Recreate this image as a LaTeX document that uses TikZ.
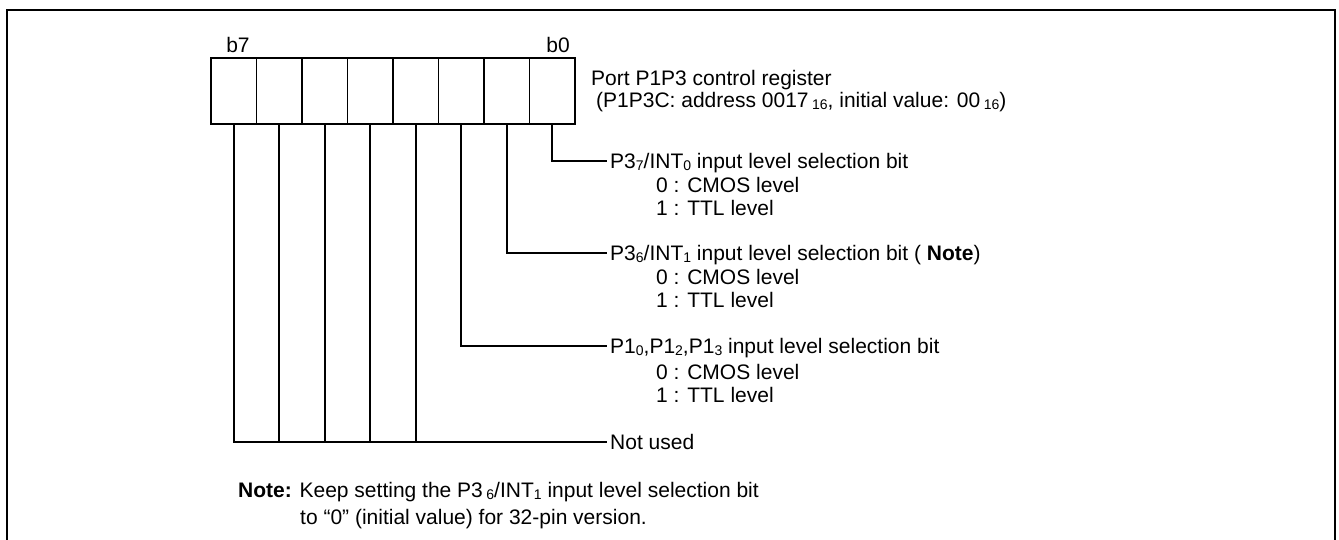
\documentclass[tikz,border=0pt]{standalone}
\usepackage{fontspec}
\setmainfont{Liberation Sans}
% small lowered digits used for port numbers and radix suffixes
\newcommand\sbs[1]{\raisebox{-0.15ex}{\fontsize{14}{14}\selectfont #1}}
\begin{document}
\begin{tikzpicture}[x=1pt,y=-1pt,
  every node/.style={font=\fontsize{21}{24}\selectfont, inner sep=0pt},
  cell/.style={draw, line width=1.8pt, minimum width=45.5pt, minimum height=66pt},
  lbl/.style={anchor=west, text height=15pt, text depth=0pt},
  wire/.style={line width=1.8pt},
  frame/.style={line width=2.6pt}]
\useasboundingbox (0,0) rectangle (1339,540);

% outer frame, open at the bottom
\draw[frame] (7,560) -- (7,10) -- (1335,10) -- (1335,560);

% register cells, b0 at the right
\foreach \i in {0,...,7}
  \node[cell] (c\i) at ({552.25-45.5*\i},91) {};

\node[anchor=base] (lb7) at (238,53) {b7};
\node[anchor=base] (lb0) at (558,53) {b0};

\node[lbl] (reg)  at (591,78)  {Port P1P3 control register};
\node[lbl] (addr) at (596,100) {(P1P3C: address 0017\,\sbs{16}, initial value: 00\,\sbs{16})};

% bit 0
\node[lbl] (t0)  at (610,161) {P3\sbs{7}/INT\sbs{0} input level selection bit};
\node[lbl] (t0a) at (656,185) {0 : CMOS level};
\node[lbl] (t0b) at (656,208) {1 : TTL level};
% bit 1
\node[lbl] (t1)  at (610,253) {P3\sbs{6}/INT\sbs{1} input level selection bit ( \textbf{Note})};
\node[lbl] (t1a) at (656,277) {0 : CMOS level};
\node[lbl] (t1b) at (656,300) {1 : TTL level};
% bit 2
\node[lbl] (t2)  at (610,346) {P1\sbs{0},P1\sbs{2},P1\sbs{3} input level selection bit};
\node[lbl] (t2a) at (656,372) {0 : CMOS level};
\node[lbl] (t2b) at (656,395) {1 : TTL level};
% bits 3-7
\node[lbl] (nu)  at (610,442) {Not used};

\draw[wire] (c0.south) |- ([xshift=-3pt]t0.west);
\draw[wire] (c1.south) |- ([xshift=-3pt]t1.west);
\draw[wire] (c2.south) |- ([xshift=-3pt]t2.west);
\draw[wire] (c7.south) |- ([xshift=-3pt]nu.west);
\foreach \i in {3,...,6}
  \draw[wire] (c\i.south) -- (c\i.south |- nu.west);

\node[lbl] (note1) at (238,490) {\textbf{Note:} Keep setting the P3\,\sbs{6}/INT\sbs{1} input level selection bit};
\node[lbl] (note2) at (300,517) {to “0” (initial value) for 32-pin version.};
\end{tikzpicture}
\end{document}
